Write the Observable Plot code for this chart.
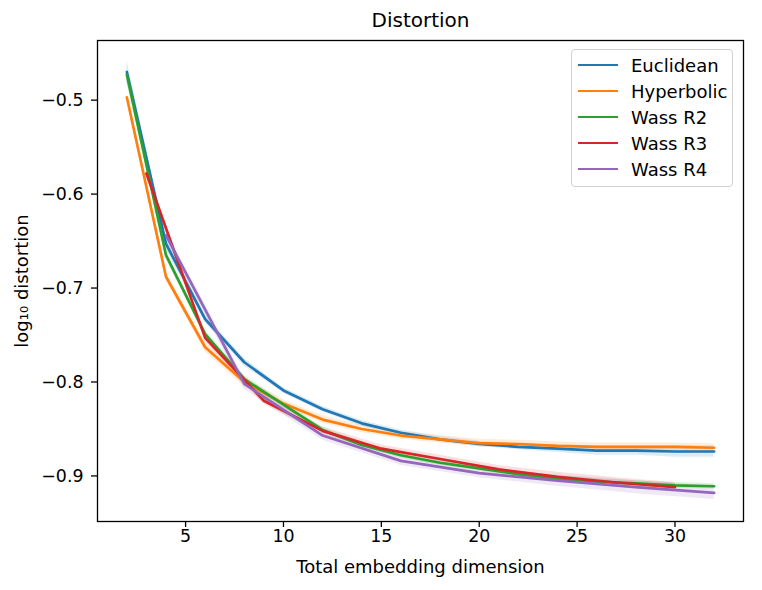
<!DOCTYPE html>
<html>
<head>
<meta charset="utf-8">
<script src="https://cdn.jsdelivr.net/npm/d3@7"></script>
<script src="https://cdn.jsdelivr.net/npm/@observablehq/plot@0.6"></script>
<style>
  body { margin: 0; background: #fff; }
  #wrap { position: relative; width: 762px; height: 590px; font-family: "DejaVu Sans", sans-serif; }
  #legend { position: absolute; left: 571px; top: 49px; width: 162px; height: 138px; border: 1px solid #d0d0d0; border-radius: 4px; background: rgba(255,255,255,0.8); box-sizing: border-box; }
  .row { position: absolute; left: 0; height: 26px; display: flex; align-items: center; font-size: 18px; color: #000; }
  .sw { width: 40px; height: 2.7px; margin-left: 6px; margin-right: 13px; }
</style>
</head>
<body>
<div id="wrap"><div id="chart"></div><div id="legend"></div></div>
<script>
const seriesNames = ["Euclidean", "Hyperbolic", "Wass R2", "Wass R3", "Wass R4"];
const seriesColors = ["#1f77b4", "#ff7f0e", "#2ca02c", "#d62728", "#9467bd"];

const dimsEven = [2, 4, 6, 8, 10, 12, 14, 16, 18, 20, 22, 24, 26, 28, 30, 32];
const dimsR3 = [3, 6, 9, 12, 15, 18, 21, 24, 27, 30];
const dimsR4 = [4, 8, 12, 16, 20, 24, 28, 32];

const euclidean = [-0.470, -0.653, -0.733, -0.779, -0.809, -0.829, -0.844, -0.854, -0.861, -0.866, -0.869, -0.871, -0.873, -0.873, -0.874, -0.874];
const hyperbolic = [-0.497, -0.688, -0.763, -0.800, -0.823, -0.840, -0.850, -0.857, -0.861, -0.865, -0.866, -0.868, -0.869, -0.869, -0.869, -0.870];
const wassR2 = [-0.473, -0.665, -0.749, -0.797, -0.824, -0.851, -0.867, -0.878, -0.886, -0.892, -0.898, -0.903, -0.906, -0.908, -0.910, -0.911];
const wassR3 = [-0.578, -0.753, -0.820, -0.852, -0.871, -0.882, -0.893, -0.901, -0.907, -0.912];
const wassR4 = [-0.644, -0.802, -0.857, -0.884, -0.897, -0.905, -0.912, -0.918];

// half-width of the shaded bands
const euclideanBand = [0.012, 0.006, 0.004, 0.004, 0.003, 0.003, 0.003, 0.003, 0.003, 0.003, 0.003, 0.004, 0.005, 0.005, 0.006, 0.006];
const hyperbolicBand = [0.004, 0.004, 0.005, 0.005, 0.004, 0.004, 0.004, 0.004, 0.004, 0.004, 0.004, 0.004, 0.004, 0.004, 0.004, 0.004];
const wassR2Band = [0.006, 0.004, 0.004, 0.004, 0.003, 0.003, 0.003, 0.003, 0.003, 0.003, 0.003, 0.003, 0.003, 0.003, 0.003, 0.003];
const wassR3Band = [0.004, 0.004, 0.004, 0.004, 0.004, 0.004, 0.004, 0.005, 0.005, 0.005];
const wassR4Band = [0.005, 0.006, 0.005, 0.005, 0.005, 0.006, 0.007, 0.007];

const xTicks = [5, 10, 15, 20, 25, 30];
const yTicks = [-0.9, -0.8, -0.7, -0.6, -0.5];
const titleText = "Distortion";
const xLabel = "Total embedding dimension";
const yLabel = "log\u2081\u2080 distortion";

const groups = [
  [seriesNames[0], dimsEven, euclidean, euclideanBand],
  [seriesNames[1], dimsEven, hyperbolic, hyperbolicBand],
  [seriesNames[2], dimsEven, wassR2, wassR2Band],
  [seriesNames[3], dimsR3, wassR3, wassR3Band],
  [seriesNames[4], dimsR4, wassR4, wassR4Band]
];
const rows = groups.flatMap(([s, xs, ys, bs]) => xs.map((x, i) => ({series: s, x, y: ys[i], lo: ys[i] - bs[i], hi: ys[i] + bs[i]})));

const chart = Plot.plot({
  width: 762,
  height: 590,
  marginTop: 40,
  marginBottom: 69,
  marginLeft: 97,
  marginRight: 19,
  style: {fontFamily: "DejaVu Sans", fontSize: "17.4px", color: "#000", background: "#fff"},
  x: {domain: [0.5, 33.5], label: null},
  y: {domain: [-0.9485, -0.4365], label: null},
  color: {domain: seriesNames, range: seriesColors},
  marks: [
    Plot.areaY(rows, {x: "x", y1: "lo", y2: "hi", z: "series", fill: "series", fillOpacity: 0.15}),
    Plot.line(rows, {x: "x", y: "y", z: "series", stroke: "series", strokeWidth: 2.7}),
    Plot.frame({stroke: "#000", strokeWidth: 1.3}),
    Plot.axisX({ticks: xTicks, tickFormat: "d", tickSize: 6, tickPadding: 2, label: null, strokeWidth: 1.3}),
    Plot.axisY({ticks: yTicks, tickFormat: ".1f", tickSize: 6, tickPadding: 8, label: null, strokeWidth: 1.3}),
    Plot.text([titleText], {frameAnchor: "top", dy: -20, text: d => d, fontSize: 20, lineAnchor: "middle", textAnchor: "middle"}),
    Plot.text([xLabel], {frameAnchor: "bottom", dy: 46, text: d => d, fontSize: 18, lineAnchor: "middle", textAnchor: "middle"}),
    Plot.text([yLabel], {frameAnchor: "left", dx: -75, rotate: -90, text: d => d, fontSize: 18, lineAnchor: "middle", textAnchor: "middle"})
  ]
});
document.getElementById("chart").appendChild(chart);

const legend = document.getElementById("legend");
seriesNames.forEach((name, i) => {
  const row = document.createElement("div");
  row.className = "row";
  row.style.top = (2 + i * 26) + "px";
  const sw = document.createElement("div");
  sw.className = "sw";
  sw.style.background = seriesColors[i];
  const lab = document.createElement("span");
  lab.textContent = name;
  row.appendChild(sw);
  row.appendChild(lab);
  legend.appendChild(row);
});
</script>
</body>
</html>
